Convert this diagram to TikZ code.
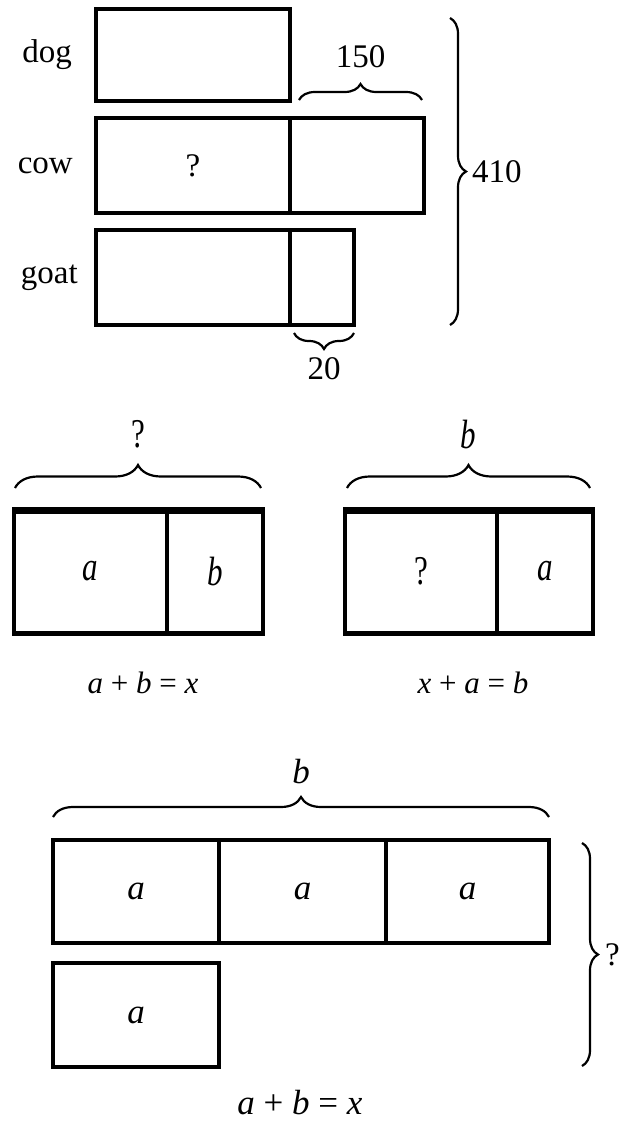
\documentclass[tikz,border=0pt]{standalone}
\usepackage{fontspec}
\usepackage{graphicx}
\setmainfont{Liberation Serif}
\usetikzlibrary{positioning,calc,decorations.pathreplacing}
\newcommand{\lung}[1]{\scalebox{1}[1.32]{#1}}
\tikzset{
  bara/.style     = {draw, line width=3.5pt, inner sep=0pt, outer sep=0pt, anchor=north west},
  eticheta/.style = {font=\fontsize{33}{37}\selectfont, inner sep=1pt},
  litera/.style   = {font=\fontsize{31}{35}\selectfont, inner sep=1pt},
  ecuatie/.style  = {font=\fontsize{31}{35}\selectfont, inner sep=1pt},
  litmare/.style  = {font=\fontsize{35}{39}\selectfont, inner sep=1pt},
  acolada/.style  = {decorate, decoration={brace, amplitude=16pt}, line width=2.2pt},
  muchie/.style   = {line width=7pt, shorten <=-1.75pt, shorten >=-1.75pt}
}

\begin{document}
\begin{tikzpicture}[x=1pt, y=-1pt]
		\useasboundingbox (0,0) rectangle (633,1122);

		\node[bara, minimum width=194pt, minimum height=92pt] (dog) at (96,9) {};
		\node[bara, minimum width=194pt, minimum height=95pt, eticheta] (cowA) at (96,118) {?};
		\node[bara, minimum width=134pt, minimum height=95pt, right=0pt of cowA] (cowB) {};
		\node[bara, minimum width=194pt, minimum height=95pt] (goatA) at (96,230) {};
		\node[bara, minimum width=64pt, minimum height=95pt, right=0pt of goatA] (goatB) {};
		\node[eticheta, left=23pt of dog] (tdog) {dog};
		\node[eticheta, left=22pt of cowA] (tcow) {cow};
		\node[eticheta, left=17pt of goatA] (tgoat) {goat};

		\coordinate (b150a) at (299,100);
		\coordinate (b150b) at (422,100);
		\coordinate (b20a) at (354,333);
		\coordinate (b20b) at (294,333);
		\coordinate (b410a) at (450,18);
		\coordinate (b410b) at (450,325);
		\draw[acolada] (b150a) -- node[eticheta, midway, above=30pt] {150} (b150b);
		\draw[acolada] (b20a) -- node[eticheta, midway, below=22pt] {20} (b20b);
		\draw[acolada] (b410a) -- node[eticheta, midway, right=20pt] {410} (b410b);

		\node[bara, minimum width=153pt, minimum height=123pt, litera] (lsA) at (14,510) {\lung{\textit{a}}};
		\node[bara, minimum width=96pt, minimum height=123pt, litera, right=0pt of lsA] (lsB) {\lung{\textit{b}}};
		\node[bara, minimum width=152pt, minimum height=123pt, litera] (rdA) at (345,510) {\lung{?}};
		\node[bara, minimum width=96pt, minimum height=123pt, litera, right=0pt of rdA] (rdB) {\lung{\textit{a}}};
		\draw[muchie] (lsA.north west) -- (lsB.north east);
		\draw[muchie, line width=5pt] (lsA.south west) -- (lsB.south east);
		\draw[muchie] (rdA.north west) -- (rdB.north east);
		\draw[muchie, line width=5pt] (rdA.south west) -- (rdB.south east);

		\coordinate (blsa) at (15,488);
		\coordinate (blsb) at (261,488);
		\coordinate (brda) at (347,488);
		\coordinate (brdb) at (590,488);
		\draw[acolada, decoration={amplitude=23pt}] (blsa) -- node[litera, midway, above=38pt] {\lung{?}} (blsb);
		\draw[acolada, decoration={amplitude=23pt}] (brda) -- node[litera, midway, above=37pt] {\lung{\textit{b}}} (brdb);
		\node[ecuatie] (eqst) at (143,683) {\textit{a} + \textit{b} = \textit{x}};
		\node[ecuatie] (eqdr) at (473,683) {\textit{x} + \textit{a} = \textit{b}};

		\node[bara, minimum width=166pt, minimum height=103pt, litmare] (jA1) at (53,840) {\textit{a}};
		\node[bara, minimum width=167pt, minimum height=103pt, litmare, right=0pt of jA1] (jA2) {\textit{a}};
		\node[bara, minimum width=163pt, minimum height=103pt, litmare, right=0pt of jA2] (jA3) {\textit{a}};
		\node[bara, minimum width=166pt, minimum height=104pt, litmare] (jB) at (53,963) {\textit{a}};

		\coordinate (bjsa) at (53,817);
		\coordinate (bjsb) at (549,817);
		\coordinate (bjda) at (582,843);
		\coordinate (bjdb) at (582,1066);
		\draw[acolada, decoration={amplitude=20pt}] (bjsa) -- node[litmare, midway, above=31pt] {\textit{b}} (bjsb);
		\draw[acolada] (bjda) -- node[eticheta, midway, right=21pt] {?} (bjdb);
		\node[litmare] (eqjos) at (300,1103) {\textit{a} + \textit{b} = \textit{x}};
	\end{tikzpicture}
\end{document}
